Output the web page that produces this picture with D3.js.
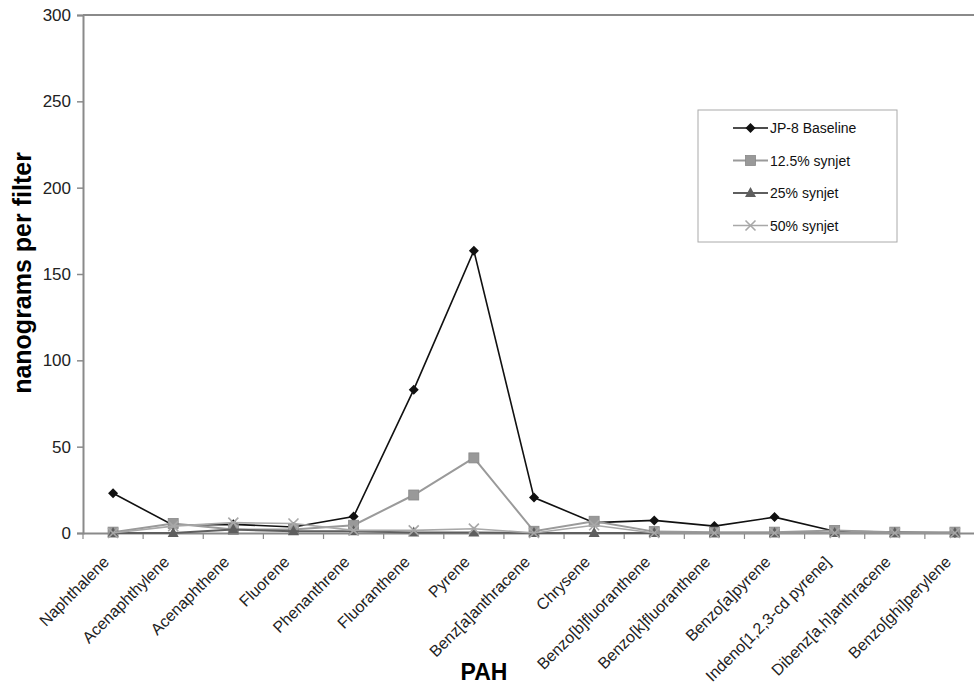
<!DOCTYPE html>
<html><head><meta charset="utf-8">
<script src="https://cdn.jsdelivr.net/npm/d3@7"></script>
<style>
html,body{margin:0;padding:0;background:#fff;}
svg{display:block;font-family:"Liberation Sans",Arial,sans-serif;}
</style></head>
<body>
<svg id="chart" width="974" height="685"></svg>
<script>
const categories = ["Naphthalene","Acenaphthylene","Acenaphthene","Fluorene","Phenanthrene","Fluoranthene","Pyrene","Benz[a]anthracene","Chrysene","Benzo[b]fluoranthene","Benzo[k]fluoranthene","Benzo[a]pyrene","Indeno[1,2,3-cd pyrene]","Dibenz[a,h]anthracene","Benzo[ghi]perylene"];
const jp8 =    [23, 4.5, 5, 3.5, 9.5, 83, 163.5, 20.5, 6, 7.3, 4, 9.2, 1, 0.5, 0];
const syn125 = [0.5, 5.5, 2, 2, 4.5, 22, 43.5, 1, 6.8, 0.8, 0.5, 0.5, 1.5, 0.5, 0.5];
const syn25 =  [0, 0, 2, 1, 1, 0.3, 0.3, 0, 0, 0, 0, 0, 0, 0, 0];
const syn50 =  [0, 4, 6, 5.5, 1.5, 1.5, 2.5, 0, 4.5, 0, 0, 0, 0, 0, 0];
const seriesNames = ["JP-8 Baseline","12.5% synjet","25% synjet","50% synjet"];
const yTicks = [0, 50, 100, 150, 200, 250, 300];

(function () {
const svg = d3.select("#chart");
const pLeft = 83, pRight = 985, pTop = 15, pBottom = 533;

const x = d3.scaleBand().domain(categories).range([pLeft, pRight]);
const y = d3.scaleLinear().domain([0, 300]).range([pBottom, pTop]);
const cx = c => x(c) + x.bandwidth() / 2;

const axisColor = "#8a8a8a";

svg.append("line").attr("x1", pLeft).attr("x2", pRight).attr("y1", pTop).attr("y2", pTop)
  .attr("stroke", axisColor).attr("stroke-width", 2);

const yAxis = svg.append("g").attr("transform", `translate(${pLeft},0)`)
  .call(d3.axisLeft(y).tickValues(yTicks).tickSize(6).tickPadding(6));
yAxis.select(".domain").attr("stroke", axisColor).attr("stroke-width", 2);
yAxis.selectAll(".tick line").attr("stroke", axisColor).attr("stroke-width", 1.5);
yAxis.selectAll(".tick text").attr("font-size", 17).attr("fill", "#222")
  .attr("font-family", "'Liberation Sans',Arial,sans-serif");

const xAxis = svg.append("g").attr("transform", `translate(0,${pBottom})`)
  .call(d3.axisBottom(x).tickSize(0).tickFormat(""));
xAxis.select(".domain").attr("stroke", axisColor).attr("stroke-width", 2);
const bounds = categories.map(c => x(c)).concat([pRight]);
svg.append("g").selectAll("line").data(bounds).join("line")
  .attr("x1", d => d).attr("x2", d => d).attr("y1", pBottom).attr("y2", pBottom + 6)
  .attr("stroke", axisColor).attr("stroke-width", 1.2);

svg.append("g").selectAll("text").data(categories).join("text")
  .attr("transform", c => `translate(${cx(c) - 3},${pBottom + 30}) rotate(-45)`)
  .attr("text-anchor", "end")
  .attr("font-size", 16).attr("fill", "#222")
  .text(c => c);

svg.append("text").attr("transform", `translate(31,273) rotate(-90)`)
  .attr("text-anchor", "middle").attr("font-weight", "bold").attr("font-size", 25)
  .attr("fill", "#000").text("nanograms per filter");
svg.append("text").attr("x", 484).attr("y", 680)
  .attr("text-anchor", "middle").attr("font-weight", "bold").attr("font-size", 23)
  .attr("fill", "#000").text("PAH");

const series = [
  {name: seriesNames[0], values: jp8, color: "#111", width: 1.6, marker: "diamond", mfill: "#111"},
  {name: seriesNames[1], values: syn125, color: "#9a9a9a", width: 2, marker: "square", mfill: "#999"},
  {name: seriesNames[2], values: syn25, color: "#5e5e5e", width: 2, marker: "triangle", mfill: "#5e5e5e"},
  {name: seriesNames[3], values: syn50, color: "#a8a8a8", width: 1.6, marker: "x", mfill: "none"}
];

function drawMarker(g, type, px, py, color) {
  if (type === "diamond") {
    g.append("path").attr("d", `M${px},${py-5}L${px+5},${py}L${px},${py+5}L${px-5},${py}Z`).attr("fill", color);
  } else if (type === "square") {
    g.append("rect").attr("x", px-5).attr("y", py-5).attr("width", 10).attr("height", 10)
      .attr("fill", color).attr("stroke", "#888").attr("stroke-width", 0.8);
  } else if (type === "triangle") {
    g.append("path").attr("d", `M${px},${py-6}L${px+5.5},${py+4}L${px-5.5},${py+4}Z`).attr("fill", color);
  } else if (type === "x") {
    g.append("path").attr("d", `M${px-5},${py-5}L${px+5},${py+5}M${px+5},${py-5}L${px-5},${py+5}`)
      .attr("stroke", color).attr("stroke-width", 1.6).attr("fill", "none");
  }
}

const line = d3.line().x((d, i) => cx(categories[i])).y(d => y(d));
series.forEach(s => {
  const g = svg.append("g");
  g.append("path").datum(s.values).attr("d", line)
    .attr("fill", "none").attr("stroke", s.color).attr("stroke-width", s.width);
  s.values.forEach((v, i) => drawMarker(g, s.marker, cx(categories[i]), y(v), s.marker === "x" ? s.color : s.mfill));
});

const lg = svg.append("g");
lg.append("rect").attr("x", 698).attr("y", 110).attr("width", 199).attr("height", 132)
  .attr("fill", "#fff").attr("stroke", "#aaa").attr("stroke-width", 1);
series.forEach((s, i) => {
  const ly = 128 + i * 32.5;
  lg.append("line").attr("x1", 733).attr("x2", 768).attr("y1", ly).attr("y2", ly)
    .attr("stroke", s.color).attr("stroke-width", s.width);
  drawMarker(lg, s.marker, 750.5, ly, s.marker === "x" ? s.color : s.mfill);
  lg.append("text").attr("x", 770).attr("y", ly + 5).attr("font-size", 14).attr("fill", "#111").text(s.name);
});
})();
</script>
</body></html>
